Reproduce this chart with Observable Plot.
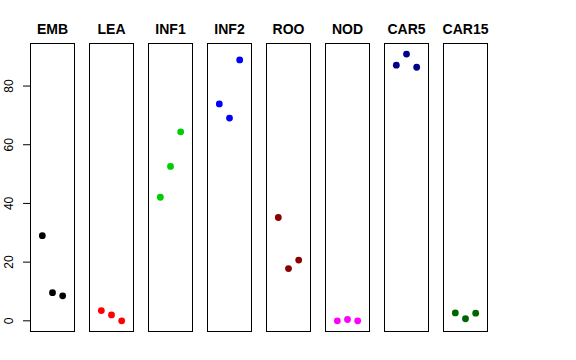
<!DOCTYPE html>
<html>
<head>
<meta charset="utf-8">
<script src="https://cdn.jsdelivr.net/npm/d3@7"></script>
<script src="https://cdn.jsdelivr.net/npm/@observablehq/plot@0.6"></script>
<style>
  html, body { margin: 0; padding: 0; background: #fff; }
</style>
</head>
<body>
<div id="chart"></div>
<script>
const panels = ["EMB", "LEA", "INF1", "INF2", "ROO", "NOD", "CAR5", "CAR15"];
const colors = ["black", "red", "#00CD00", "blue", "#8B0000", "magenta", "#00008B", "#006400"];
const replicate = [1, 2, 3];
const values = {
  EMB:   [29.0, 9.6, 8.5],
  LEA:   [3.5, 2.0, 0.0],
  INF1:  [42.1, 52.6, 64.4],
  INF2:  [73.9, 69.1, 88.9],
  ROO:   [35.2, 17.8, 20.7],
  NOD:   [0.0, 0.45, 0.0],
  CAR5:  [87.1, 90.9, 86.4],
  CAR15: [2.7, 0.7, 2.6]
};
const yTicks = [0, 20, 40, 60, 80];

const rows = panels.flatMap((p, i) =>
  replicate.map((r, j) => ({panel: p, rep: r, value: values[p][j], col: colors[i]}))
);

const font = "'Liberation Sans', Arial, Helvetica, sans-serif";

const chart = Plot.plot({
  width: 576,
  height: 360,
  marginLeft: 29,
  marginRight: 88,
  marginTop: 43,
  marginBottom: 29,
  style: {fontFamily: font, background: "white"},
  fx: {domain: panels, paddingInner: 0.247, paddingOuter: 0, axis: null, label: null},
  x: {domain: [-0.16, 4.16], axis: null},
  y: {domain: [-3.64, 94.5], axis: null},
  color: {type: "identity"},
  marks: [
    Plot.frame({stroke: "black", strokeWidth: 1}),
    Plot.dot(rows, {fx: d => d.panel, x: d => d.rep, y: d => d.value, fill: d => d.col, r: 3.4}),
    Plot.text(panels, {fx: d => d, text: d => d, frameAnchor: "top", dy: -14,
      lineAnchor: "middle", fontWeight: "bold", fontSize: 14, fill: "black"}),
    Plot.axisY({ticks: yTicks, tickSize: 7, tickFormat: () => "", stroke: "black", strokeWidth: 1}),
    Plot.text(yTicks, {fx: () => "EMB", y: d => d, text: d => String(d), frameAnchor: "left",
      dx: -21, rotate: -90, textAnchor: "middle", lineAnchor: "middle", fontSize: 12, fill: "black"})
  ]
});

document.getElementById("chart").appendChild(chart);
</script>
</body>
</html>
